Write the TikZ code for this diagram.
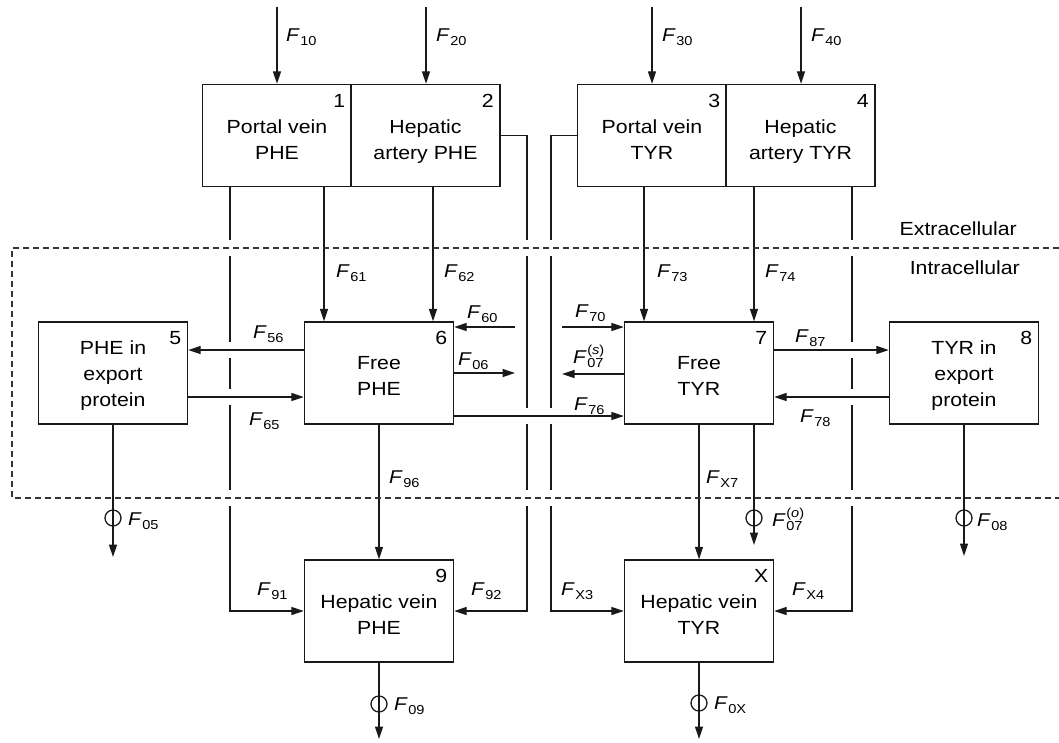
\documentclass[tikz,border=0pt]{standalone}
\usepackage{fontspec}
\setmainfont{Liberation Sans}[FakeStretch=1.12]
\usetikzlibrary{calc,arrows.meta}
\newcommand{\boxfont}{\fontsize{19}{26}\selectfont}
\newcommand{\labfont}{\fontsize{18.5}{20}\selectfont}
\newcommand{\subfont}{\fontsize{13}{13}\selectfont}
\newcommand{\Fl}[1]{\textit{F}\kern0.5pt\raisebox{-4.5pt}{\subfont #1}}
\newcommand{\Flsup}[2]{\textit{F}\kern0.5pt\rlap{\raisebox{8.5pt}{\subfont(\textit{#2})}}\raisebox{-4.5pt}{\subfont #1}}
\begin{document}
\begin{tikzpicture}[x=1pt,y=-1pt,
  blk/.style={draw=black!90, line width=1.4pt, minimum width=149pt, minimum height=102pt, inner sep=0pt},
  btext/.style={font=\boxfont, align=center, inner sep=0pt, text height=14pt, text depth=5pt},
  num/.style={font=\boxfont, inner sep=0pt},
  lab/.style={font=\labfont, anchor=base west, inner sep=0pt},
  flow/.style={draw=black!90, line width=1.3pt, -{Triangle[length=12.5pt,width=8pt]}},
  valve/.style={draw=black!90, circle, line width=1.3pt, minimum size=16pt, inner sep=0pt},
  region/.style={line width=1.1pt, dash pattern=on 6pt off 4pt, draw=black!80},
  reglab/.style={font=\boxfont, anchor=base east, inner sep=0pt}
]
\useasboundingbox (0,0) rectangle (1059,742);

% boxes
\node[blk] (b1) at (277,135.5) {};
\node[blk] (b2) at (425.5,135.5) {};
\node[blk] (b3) at (652,135.5) {};
\node[blk] (b4) at (800.5,135.5) {};
\node[blk] (b5) at (113,373) {};
\node[blk] (b6) at (379,373) {};
\node[blk] (b7) at (699,373) {};
\node[blk] (b8) at (964,373) {};
\node[blk] (b9) at (379,611) {};
\node[blk] (bX) at (699,611) {};

% box texts
\node[btext] (t1) at ($(b1)+(0,19)$) {Portal vein\\PHE};
\node[btext] (t2) at ($(b2)+(0,19)$) {Hepatic\\artery PHE};
\node[btext] (t3) at ($(b3)+(0,19)$) {Portal vein\\TYR};
\node[btext] (t4) at ($(b4)+(0,19)$) {Hepatic\\artery TYR};
\node[btext] (t5) at ($(b5)+(0,28.5)$) {PHE in\\export\\protein};
\node[btext] (t6) at ($(b6)+(0,18)$) {Free\\PHE};
\node[btext] (t7) at ($(b7)+(0,18)$) {Free\\TYR};
\node[btext] (t8) at ($(b8)+(0,28.5)$) {TYR in\\export\\protein};
\node[btext] (t9) at ($(b9)+(0,18.5)$) {Hepatic vein\\PHE};
\node[btext] (tX) at ($(bX)+(0,18.5)$) {Hepatic vein\\TYR};

% numbers
\foreach \b/\n in {b1/1,b2/2,b3/3,b4/4,b5/5,b6/6,b7/7,b8/8,b9/9,bX/X}
  \node[num] (n\n) at ($(\b.north east)+(-13,17)$) {\n};

% inputs
\coordinate (i1) at (277,7);
\coordinate (i2) at (426,7);
\coordinate (i3) at (652,7);
\coordinate (i4) at (801,7);
\draw[flow] (i1) -- (i1 |- b1.north);
\draw[flow] (i2) -- (i2 |- b2.north);
\draw[flow] (i3) -- (i3 |- b3.north);
\draw[flow] (i4) -- (i4 |- b4.north);

% bypass pipes
\coordinate (p1) at (230,611);
\coordinate (p2) at (527,611);
\coordinate (p3) at (551,611);
\coordinate (p4) at (852,611);
\draw[flow] (b1.south -| p1) -- (p1) -- (b9.west);
\draw[flow] (b2.east) -| (p2) -- (b9.east);
\draw[flow] (b3.west) -| (p3) -- (bX.west);
\draw[flow] (b4.south -| p4) -- (p4) -- (bX.east);

% vertical flows
\coordinate (x61) at (324,0);
\coordinate (x62) at (433,0);
\coordinate (x73) at (644,0);
\coordinate (x74) at (754,0);
\draw[flow] (b1.south -| x61) -- (b6.north -| x61);
\draw[flow] (b2.south -| x62) -- (b6.north -| x62);
\draw[flow] (b3.south -| x73) -- (b7.north -| x73);
\draw[flow] (b4.south -| x74) -- (b7.north -| x74);
\draw[flow] (b6.south) -- (b9.north);
\draw[flow] (b7.south) -- (bX.north);

% outflows with valves
\coordinate (o05) at (113,557);
\coordinate (o07) at (754,545);
\coordinate (o08) at (964,556);
\coordinate (o09) at (379,739);
\coordinate (o0X) at (699,739);
\draw[flow] (b5.south) -- (o05);
\draw[flow] (b7.south -| o07) -- (o07);
\draw[flow] (b8.south) -- (o08);
\draw[flow] (b9.south) -- (o09);
\draw[flow] (bX.south) -- (o0X);
\node[valve] (v05) at (113,518) {};
\node[valve] (v07) at (754,518) {};
\node[valve] (v08) at (964,518) {};
\node[valve] (v09) at (379,704) {};
\node[valve] (v0X) at (699,703) {};

% gaps in bypass pipes
\foreach \x/\y in {230/248,527/248,551/248,852/248,230/498,527/498,551/498,852/498,230/350,230/397,527/416,551/416,852/350,852/397}
  \fill[white] (\x-3,\y-8) rectangle (\x+3,\y+8);

% compartment boundary
\draw[region] (1059,248) -- (12,248) -- (12,498) -- (1059,498);
\node[reglab] (ext) at (1017,235) {Extracellular};
\node[reglab] (int) at (1020,274) {Intracellular};

% horizontal flows
\coordinate (s60) at (515,327);
\coordinate (e06) at (515,373);
\coordinate (y56) at (0,350);
\coordinate (y65) at (0,397);
\coordinate (y76) at (0,416);
\coordinate (s70) at (562,327);
\coordinate (e07) at (562,374);
\draw[flow] (s60) -- (s60 -| b6.east);
\draw[flow] (e06 -| b6.east) -- (e06);
\draw[flow] (b6.west |- y56) -- (b5.east |- y56);
\draw[flow] (b5.east |- y65) -- (b6.west |- y65);
\draw[flow] (b6.east |- y76) -- (b7.west |- y76);
\draw[flow] (s70) -- (s70 -| b7.west);
\draw[flow] (e07 -| b7.west) -- (e07);
\draw[flow] (b7.east |- y56) -- (b8.west |- y56);
\draw[flow] (b8.west |- y65) -- (b7.east |- y65);

% labels
\node[lab] (l10) at (286,41) {\Fl{10}};
\node[lab] (l20) at (436,41) {\Fl{20}};
\node[lab] (l30) at (662,41) {\Fl{30}};
\node[lab] (l40) at (811,41) {\Fl{40}};
\node[lab] (l61) at (336,277) {\Fl{61}};
\node[lab] (l62) at (444,277) {\Fl{62}};
\node[lab] (l60) at (467,318) {\Fl{60}};
\node[lab] (l06) at (458,365) {\Fl{06}};
\node[lab] (l56) at (253,338) {\Fl{56}};
\node[lab] (l65) at (249,425) {\Fl{65}};
\node[lab] (l96) at (389,483) {\Fl{96}};
\node[lab] (l73) at (657,277) {\Fl{73}};
\node[lab] (l74) at (765,277) {\Fl{74}};
\node[lab] (l70) at (575,317) {\Fl{70}};
\node[lab] (l07s) at (573,363) {\Flsup{07}{s}};
\node[lab] (l76) at (574,410) {\Fl{76}};
\node[lab] (l87) at (795,342) {\Fl{87}};
\node[lab] (l78) at (800,422) {\Fl{78}};
\node[lab] (lX7) at (706,483) {\Fl{X7}};
\node[lab] (l91) at (257,595) {\Fl{91}};
\node[lab] (l92) at (471,595) {\Fl{92}};
\node[lab] (lX3) at (561,595) {\Fl{X3}};
\node[lab] (lX4) at (792,595) {\Fl{X4}};
\node[lab] (l05) at (128,525) {\Fl{05}};
\node[lab] (l09) at (394,710) {\Fl{09}};
\node[lab] (l0X) at (714,709) {\Fl{0X}};
\node[lab] (l08) at (977,526) {\Fl{08}};
\node[lab] (l07o) at (772,526) {\Flsup{07}{o}};
\end{tikzpicture}
\end{document}
